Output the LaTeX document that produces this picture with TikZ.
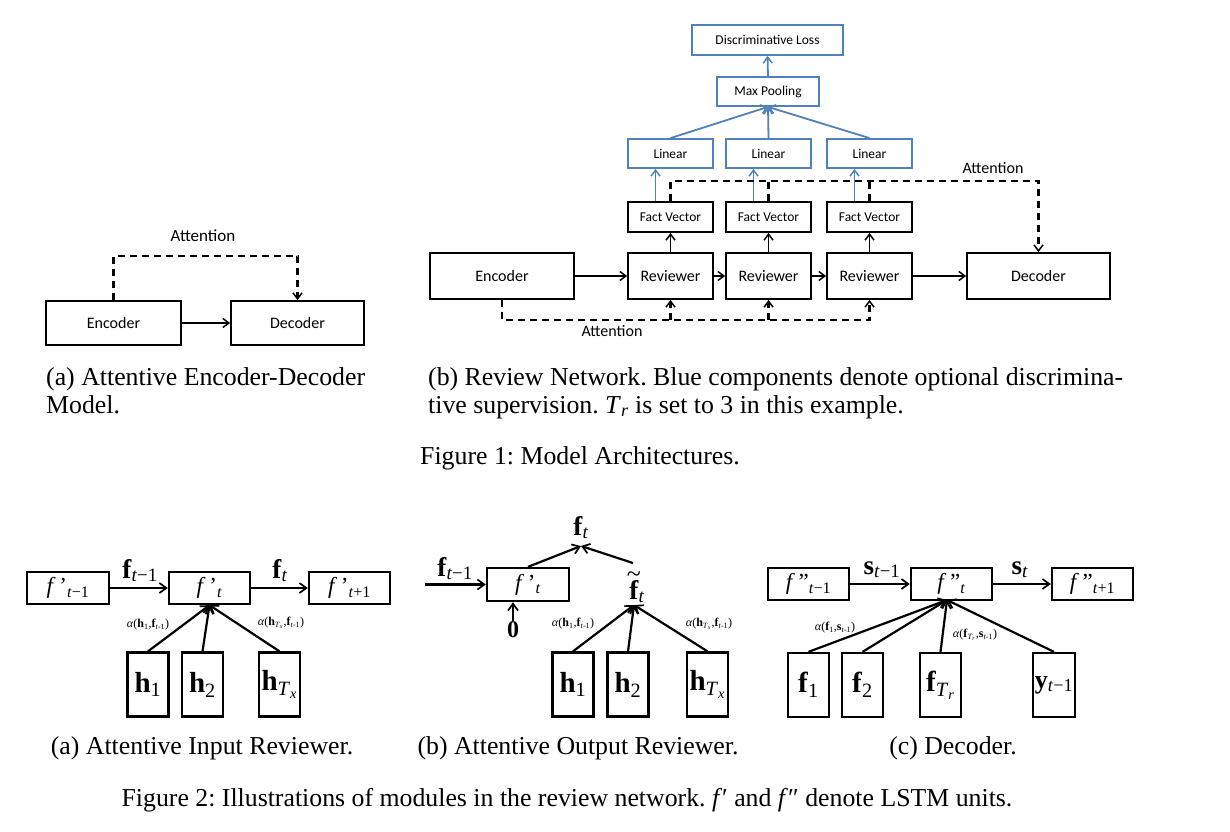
\documentclass[tikz,border=0pt]{standalone}
\usepackage{fontspec}
\setmainfont{Liberation Serif}
\newfontfamily\diafont{Carlito}
\usetikzlibrary{arrows.meta}
\definecolor{ablue}{RGB}{79,129,189}
\newcommand{\msub}[1]{\textsubscript{#1}}
\newcommand{\ti}{\textit{t}}
\newcommand{\ftilde}{\ooalign{\textbf{f}\cr\hidewidth\raisebox{17pt}{\fontsize{26}{26}\selectfont\textasciitilde}\hidewidth\cr}}
\frenchspacing
\begin{document}
\begin{tikzpicture}[x=1pt,y=-1pt,
  box/.style={draw, line width=1.8pt, inner sep=0pt, font=\diafont\fontsize{16}{18}\selectfont},
  sbox/.style={box, font=\diafont\fontsize{13.5}{15}\selectfont},
  bbox/.style={sbox, draw=ablue},
  arr/.style={line width=1.8pt, -{Straight Barb[length=6pt,width=9pt,line width=1.5pt]}},
  barr/.style={arr, draw=ablue},
  dsh/.style={line width=2.3pt, dash pattern=on 7pt off 5pt},
  darr/.style={dsh, -{Straight Barb[length=6pt,width=9pt,line width=1.5pt]}},
  lbl/.style={font=\diafont\fontsize{17}{19}\selectfont, inner sep=0pt},
  captxt/.style={font=\fontsize{25.8}{29}\selectfont, inner sep=0pt},
  mbox/.style={draw, line width=2.3pt, inner sep=0pt, font=\fontsize{23}{25}\selectfont},
  hbox/.style={mbox, minimum width=41pt, minimum height=64pt, font=\fontsize{29}{31}\selectfont},
  marr/.style={line width=2.2pt, -{Straight Barb[length=7pt,width=10pt,line width=1.7pt]}},
  mlbl/.style={font=\fontsize{27}{29}\selectfont, inner sep=0pt},
  alab/.style={font=\fontsize{12}{14}\selectfont, inner sep=0pt}
]
\useasboundingbox (0,0) rectangle (1230,831);

% ---------- Figure 1a ----------
\node[box, minimum width=135pt, minimum height=44pt] (enc1) at (113.5,323) {Encoder};
\node[box, minimum width=133pt, minimum height=44pt] (dec1) at (297.5,323) {Decoder};
\node[lbl] (att1) at (203,236) {Attention};
\draw[arr] (enc1.east) -- (dec1.west);
\draw[darr] (enc1.north) -- ++(0,-44) -| (dec1.north);

% ---------- Figure 1b ----------
\node[box, minimum width=144pt, minimum height=46pt] (enc2) at (502,276) {Encoder};
\node[box, minimum width=85pt, minimum height=46pt] (rev1) at (670.5,276) {Reviewer};
\node[box, minimum width=85pt, minimum height=46pt] (rev2) at (768.5,276) {Reviewer};
\node[box, minimum width=85pt, minimum height=46pt] (rev3) at (869.5,276) {Reviewer};
\node[box, minimum width=143pt, minimum height=46pt] (dec2) at (1038.5,276) {Decoder};
\node[sbox, minimum width=85pt, minimum height=30pt] (fv1) at (670.5,217) {Fact Vector};
\node[sbox, minimum width=85pt, minimum height=30pt] (fv2) at (768.5,217) {Fact Vector};
\node[sbox, minimum width=85pt, minimum height=30pt] (fv3) at (869.5,217) {Fact Vector};
\node[bbox, minimum width=85pt, minimum height=29pt] (lin1) at (670.5,153.5) {Linear};
\node[bbox, minimum width=85pt, minimum height=29pt] (lin2) at (768.5,153.5) {Linear};
\node[bbox, minimum width=85pt, minimum height=29pt] (lin3) at (869.5,153.5) {Linear};
\node[bbox, minimum width=102pt, minimum height=29pt] (mp) at (768,91.5) {Max Pooling};
\node[bbox, minimum width=151pt, minimum height=30pt] (dl) at (767.5,40) {Discriminative Loss};
\node[lbl, font=\diafont\fontsize{16}{18}\selectfont] (att2) at (993,168) {Attention};
\node[lbl, font=\diafont\fontsize{16}{18}\selectfont] (att3) at (612,331) {Attention};

\draw[arr] (enc2.east) -- (rev1.west);
\draw[arr] (rev1.east) -- (rev2.west);
\draw[arr] (rev2.east) -- (rev3.west);
\draw[arr] (rev3.east) -- (dec2.west);
\foreach \i in {1,2,3}{
  \draw[arr] (rev\i.north) -- (fv\i.south);
  \draw[barr] ([xshift=-15pt]fv\i.north) -- ([xshift=-15pt]lin\i.south);
  \draw[barr] (lin\i.north) -- (mp.south);
}
\draw[barr] (mp.north) -- (dl.south);
\draw[darr] (fv1.north) -- ++(0,-20) -| (dec2.north);
\draw[dsh] (fv2.north) -- ++(0,-20);
\draw[dsh] (fv3.north) -- ++(0,-20);
\coordinate (bl) at (0,320);
\draw[darr] (enc2.south) |- (rev3.south |- bl) -- (rev3.south);
\draw[darr] (rev1.south |- bl) -- (rev1.south);
\draw[darr] (rev2.south |- bl) -- (rev2.south);

% ---------- Figure 1 captions ----------
\node[captxt, anchor=base west] at (46,385) {(a) Attentive Encoder-Decoder};
\node[captxt, anchor=base west] at (46,413) {Model.};
\node[captxt, anchor=base west] at (428,385) {(b) Review Network. Blue components denote optional discrimina-};
\node[captxt, anchor=base west] at (428,413) {tive supervision. \textit{T}\msub{\textit{r}} is set to 3 in this example.};
\node[captxt, anchor=base] at (580,464) {Figure 1: Model Architectures.};

% ---------- Figure 2a ----------
\node[mbox, minimum width=82pt, minimum height=32pt] (fa1) at (68,588) {\textit{f}\,'\msub{\ti{}−1}};
\node[mbox, minimum width=81pt, minimum height=32pt] (fa2) at (209.5,588) {\textit{f}\,'\msub{\ti}};
\node[mbox, minimum width=81pt, minimum height=32pt] (fa3) at (349.5,588) {\textit{f}\,'\msub{\ti{}+1}};
\node[hbox] (ha1) at (148,684.5) {\textbf{h}\msub{1}};
\node[hbox] (ha2) at (202.5,684.5) {\textbf{h}\msub{2}};
\node[hbox] (ha3) at (279.5,684.5) {\textbf{h}\msub{\textit{T}\msub{\textit{x}}}};
\draw[marr] (fa1.east) -- (fa2.west);
\draw[marr] (fa2.east) -- (fa3.west);
\node[mlbl, anchor=base] (la1) at (140,578) {\textbf{f}\msub{\ti{}−1}};
\node[mlbl, anchor=base] (la2) at (280,578) {\textbf{f}\msub{\ti}};
\foreach \i in {1,2,3}{ \draw[marr] (ha\i.north) -- (fa2.south); }
\node[alab] (aa1) at (148,625) {\textit{α}(\textbf{h}\msub{1},\textbf{f}\msub{\ti{}-1})};
\node[alab] (aa2) at (281,623) {\textit{α}(\textbf{h}\msub{\textit{T}\msub{\textit{x}}},\textbf{f}\msub{\ti{}-1})};

% ---------- Figure 2b ----------
\node[mbox, minimum width=82pt, minimum height=33pt] (fb) at (528,584.5) {\textit{f}\,'\msub{\ti}};
\coordinate (fbin) at (425,584.5);
\draw[marr] (fbin) -- (fb.west);
\node[mlbl, anchor=base] (lb1) at (455,576) {\textbf{f}\msub{\ti{}−1}};
\node[mlbl, anchor=base, font=\fontsize{24}{26}\selectfont] (zero) at (513,637) {\textbf{0}};
\draw[marr] (zero.north) -- ([xshift=-15pt]fb.south);
\node[mlbl, anchor=base] (ftop) at (581,535) {\textbf{f}\msub{\ti}};
\coordinate (ftin) at (581,546);
\node[mlbl, anchor=base] (ftil) at (637,599) {\ftilde\msub{\ti}};
\coordinate (ftilb) at (634,605);
\coordinate (ftilt) at (633,563);
\draw[marr] (fb.north) -- (ftin);
\draw[marr] (ftilt) -- (ftin);
\node[hbox] (hb1) at (573,684.5) {\textbf{h}\msub{1}};
\node[hbox] (hb2) at (628,684.5) {\textbf{h}\msub{2}};
\node[hbox] (hb3) at (707.5,684.5) {\textbf{h}\msub{\textit{T}\msub{\textit{x}}}};
\foreach \i in {1,2,3}{ \draw[marr] (hb\i.north) -- (ftilb); }
\node[alab] (ab1) at (573,624) {\textit{α}(\textbf{h}\msub{1},\textbf{f}\msub{\ti{}-1})};
\node[alab] (ab2) at (709,624) {\textit{α}(\textbf{h}\msub{\textit{T}\msub{\textit{x}}},\textbf{f}\msub{\ti{}-1})};

% ---------- Figure 2c ----------
\node[mbox, minimum width=81pt, minimum height=32pt] (fc1) at (808.5,584) {\textit{f}\,''\msub{\ti{}−1}};
\node[mbox, minimum width=81pt, minimum height=32pt] (fc2) at (951.5,584) {\textit{f}\,''\msub{\ti}};
\node[mbox, minimum width=81pt, minimum height=32pt] (fc3) at (1092.5,584) {\textit{f}\,''\msub{\ti{}+1}};
\draw[marr] (fc1.east) -- (fc2.west);
\draw[marr] (fc2.east) -- (fc3.west);
\node[mlbl, anchor=base] (lc1) at (882,574) {\textbf{s}\msub{\ti{}−1}};
\node[mlbl, anchor=base] (lc2) at (1020,574) {\textbf{s}\msub{\ti}};
\node[hbox] (gc1) at (808.5,685) {\textbf{f}\msub{1}};
\node[hbox] (gc2) at (862.5,685) {\textbf{f}\msub{2}};
\node[hbox] (gc3) at (940.5,685) {\textbf{f}\msub{\textit{T}\msub{\textit{r}}}};
\node[hbox, minimum width=42pt, font=\fontsize{26}{28}\selectfont] (gc4) at (1054,685) {\textbf{y}\msub{\ti{}−1}};
\coordinate (fc2in) at (947,600);
\foreach \i in {1,2,3,4}{ \draw[marr] (gc\i.north) -- (fc2in); }
\node[alab] (ac1) at (835,628) {\textit{α}(\textbf{f}\msub{1},\textbf{s}\msub{\ti{}-1})};
\node[alab] (ac2) at (975,635) {\textit{α}(\textbf{f}\msub{\textit{T}\msub{\textit{r}}},\textbf{s}\msub{\ti{}-1})};

% ---------- Figure 2 captions ----------
\node[captxt, anchor=base] at (202,754) {(a) Attentive Input Reviewer.};
\node[captxt, anchor=base] at (578,754) {(b) Attentive Output Reviewer.};
\node[captxt, anchor=base] at (953,754) {(c) Decoder.};
\node[captxt, anchor=base] at (567,806) {Figure 2: Illustrations of modules in the review network. \textit{f}′ and \textit{f}″ denote LSTM units.};
\end{tikzpicture}
\end{document}
